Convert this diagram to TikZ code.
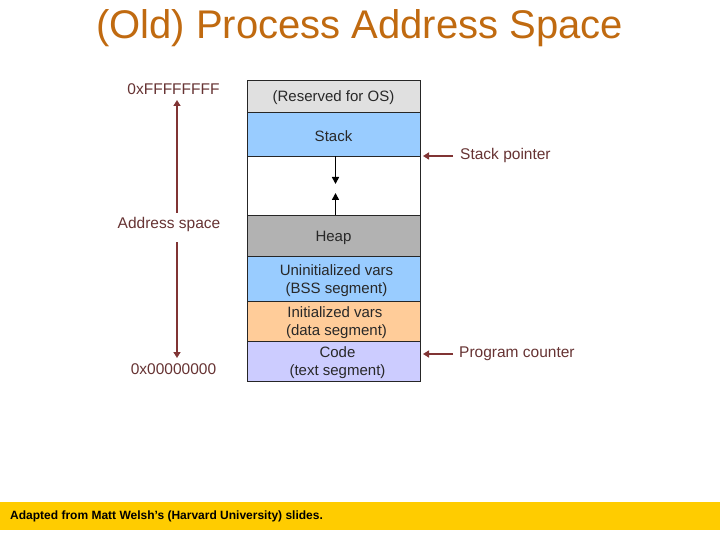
\documentclass[tikz,border=0pt]{standalone}
\usepackage{fontspec}
\setmainfont{Liberation Sans}
\usetikzlibrary{arrows.meta,calc}
\definecolor{titlec}{RGB}{192,106,16}
\definecolor{labc}{RGB}{102,51,51}
\definecolor{arrc}{RGB}{128,52,52}
\definecolor{boxtxt}{RGB}{40,40,40}
\definecolor{resc}{RGB}{224,224,224}
\definecolor{stackc}{RGB}{153,204,255}
\definecolor{heapc}{RGB}{178,178,178}
\definecolor{datac}{RGB}{255,204,153}
\definecolor{codec}{RGB}{204,204,255}
\definecolor{bandc}{RGB}{255,204,0}
\tikzset{
  seg/.style={draw=black!85, line width=0.9pt, minimum width=173pt, inner sep=0pt},
  segtxt/.style={align=center, inner sep=0pt, text=boxtxt, font=\fontsize{15}{18}\selectfont, yshift=-2pt},
  lab/.style={text=labc, font=\fontsize{15.5}{18}\selectfont, inner sep=0pt},
  brarrow/.style={draw=arrc, line width=2pt, -{Triangle[length=6pt,width=7pt]}},
  blkarrow/.style={draw=black, line width=1.6pt, -{Triangle[length=7pt,width=7pt]}}
}
\begin{document}
\begin{tikzpicture}[x=1pt,y=-1pt]
\useasboundingbox (0,0) rectangle (720,540);
% title
\node[text=titlec, font=\fontsize{40}{44}\selectfont, inner sep=0pt] (title) at (359.5,28) {(Old) Process Address Space};
% segments
\node[seg, fill=resc, minimum height=32pt, label={[segtxt]center:(Reserved for OS)}] (res) at (333.5,96) {};
\node[seg, fill=stackc, minimum height=44pt, label={[segtxt]center:Stack}] (stack) at (333.5,134) {};
\node[seg, fill=white, minimum height=59pt] (gap) at (333.5,185.5) {};
\node[seg, fill=heapc, minimum height=41pt, label={[segtxt]center:Heap}] (heap) at (333.5,235.5) {};
\node[seg, fill=stackc, minimum height=45pt, label={[segtxt]center:\hspace*{6pt}Uninitialized vars\\\hspace*{6pt}(BSS segment)}] (bss) at (333.5,278.5) {};
\node[seg, fill=datac, minimum height=40pt, label={[segtxt]center:\hspace*{3pt}Initialized vars\\\hspace*{6pt}(data segment)}] (data) at (333.5,321) {};
\node[seg, fill=codec, minimum height=40pt, label={[segtxt]center:\hspace*{8pt}Code\\\hspace*{8pt}(text segment)}] (code) at (333.5,361) {};
% inner arrows
\coordinate (mid) at (335.5,0);
\coordinate (sdown) at (335.5,184);
\coordinate (hup) at (335.5,193);
\draw[blkarrow] (stack.south -| mid) -- (sdown);
\draw[blkarrow] (heap.north -| mid) -- (hup);
% left labels
\node[lab] (top) at (173.5,89) {0xFFFFFFFF};
\node[lab] (addr) at (169,224) {Address space};
\node[lab] (bot) at (173.5,369) {0x00000000};
\coordinate (upstart) at (177,213);
\coordinate (upend) at (177,100);
\coordinate (downstart) at (177,242);
\coordinate (downend) at (177,358);
\draw[brarrow] (upstart) -- (upend);
\draw[brarrow] (downstart) -- (downend);
% right labels
\node[lab, anchor=west] (sp) at (460,155) {Stack pointer};
\node[lab, anchor=west] (pc) at (459,354) {Program counter};
\coordinate (spstart) at (453,156);
\coordinate (spend) at (423,156);
\coordinate (pcstart) at (453,354);
\coordinate (pcend) at (423,354);
\draw[brarrow] (spstart) -- (spend);
\draw[brarrow] (pcstart) -- (pcend);
% footer band
\fill[bandc] (0,502) rectangle (720,530);
\node[anchor=west, inner sep=0pt, font=\bfseries\fontsize{12}{14}\selectfont, text=black] (foot) at (10,516) {Adapted from Matt Welsh’s (Harvard University) slides.};
\end{tikzpicture}
\end{document}
